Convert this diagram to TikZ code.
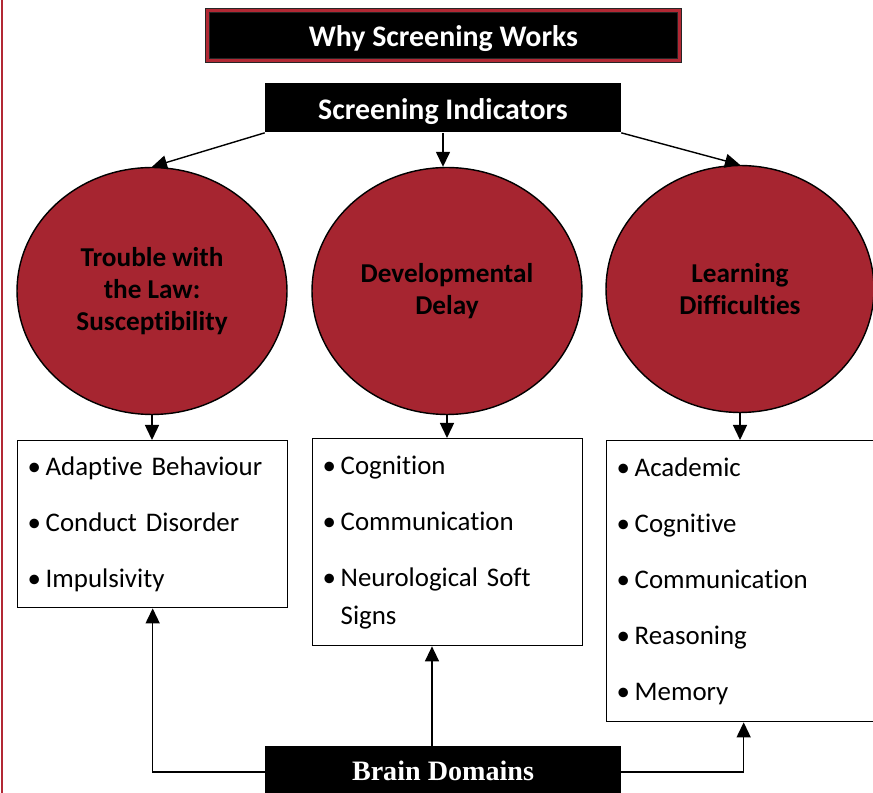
\documentclass[tikz,border=0pt]{standalone}
\usepackage{fontspec}
\setmainfont{Carlito}[Ligatures={NoCommon,NoContextual}, Contextuals=NoAlternate]
\newfontfamily\brainfont{Liberation Serif}
\usetikzlibrary{arrows.meta,shapes.geometric}
\definecolor{circred}{RGB}{166,37,48}
\definecolor{framered}{RGB}{178,40,52}
\newcommand{\itm}[1]{\makebox[0.36cm][l]{•}#1}
\begin{document}
\begin{tikzpicture}[
  x=0.02cm, y=-0.02cm,
  head/.style={fill=black, text=white, inner sep=0pt, text height=13pt, text depth=0pt, font=\fontsize{17}{20}\selectfont\bfseries},
  circ/.style={ellipse, draw, line width=0.8pt, fill=circred, minimum width=5.4cm, minimum height=4.94cm, inner sep=0pt, align=center, font=\fontsize{15.5}{18.2}\selectfont\bfseries},
  itembox/.style={draw, line width=0.8pt, anchor=north west, inner xsep=0.2cm, inner ysep=0pt, align=left, font=\fontsize{15.3}{21.6}\selectfont},
  arrow/.style={-{Triangle[length=0.3cm,width=0.28cm]}, line width=0.8pt},
]
\useasboundingbox (0,0) rectangle (873,793);
\clip (0,0) rectangle (873,793);
\draw[framered, line width=1.25pt] (2,0) -- (2,793);

\node[head, minimum width=9.44cm, minimum height=1.0cm, draw=black!85, line width=0.45pt, double=framered, double distance=2pt] (title) at (443.5,35.5) {Why Screening Works};
\node[head, minimum width=7.12cm, minimum height=0.98cm] (ind) at (443,108) {Screening Indicators};

\node[circ] (law)   at (152,291) {Trouble with\\the Law:\\Susceptibility};
\node[circ] (dev)   at (447,291) {Developmental\\Delay};
\node[circ, minimum width=5.36cm] (learn) at (740,289) {Learning\\Difficulties};

\node[itembox, text width=5.0cm, minimum height=3.34cm] (lawlist) at (17,440)
  {\itm{Adaptive Behaviour}\\[10.3pt]\itm{Conduct Disorder}\\[10.3pt]\itm{Impulsivity}};
\node[itembox, text width=5.0cm, minimum height=4.14cm] (devlist) at (312,438)
  {\itm{Cognition}\\[10.3pt]\itm{Communication}\\[10.3pt]\itm{Neurological Soft}\\\hspace*{0.36cm}Signs};
\node[itembox, text width=5.08cm, minimum height=5.62cm] (learnlist) at (606,440)
  {\itm{Academic}\\[10.3pt]\itm{Cognitive}\\[10.3pt]\itm{Communication}\\[10.3pt]\itm{Reasoning}\\[10.3pt]\itm{Memory}};

\node[head, minimum width=7.12cm, minimum height=1.04cm, text height=10pt, font=\fontsize{16}{19}\selectfont\brainfont\bfseries] (brain) at (443,772) {Brain Domains};

\draw[arrow] (ind.south west) -- (law.north);
\draw[arrow] (ind.south) -- (ind.south |- dev.north);
\draw[arrow] (ind.south east) -- (learn.north);
\draw[arrow] (law.south) -- (law.south |- lawlist.north);
\draw[arrow] (dev.south) -- (dev.south |- devlist.north);
\draw[arrow] (learn.south) -- (learn.south |- learnlist.north);
\draw[arrow] (brain.west) -| (lawlist.south);
\draw[arrow] ([xshift=-0.22cm]brain.north) -- ([xshift=-0.22cm]brain.north |- devlist.south);
\draw[arrow] (brain.east) -| (learnlist.south);
\end{tikzpicture}
\end{document}
